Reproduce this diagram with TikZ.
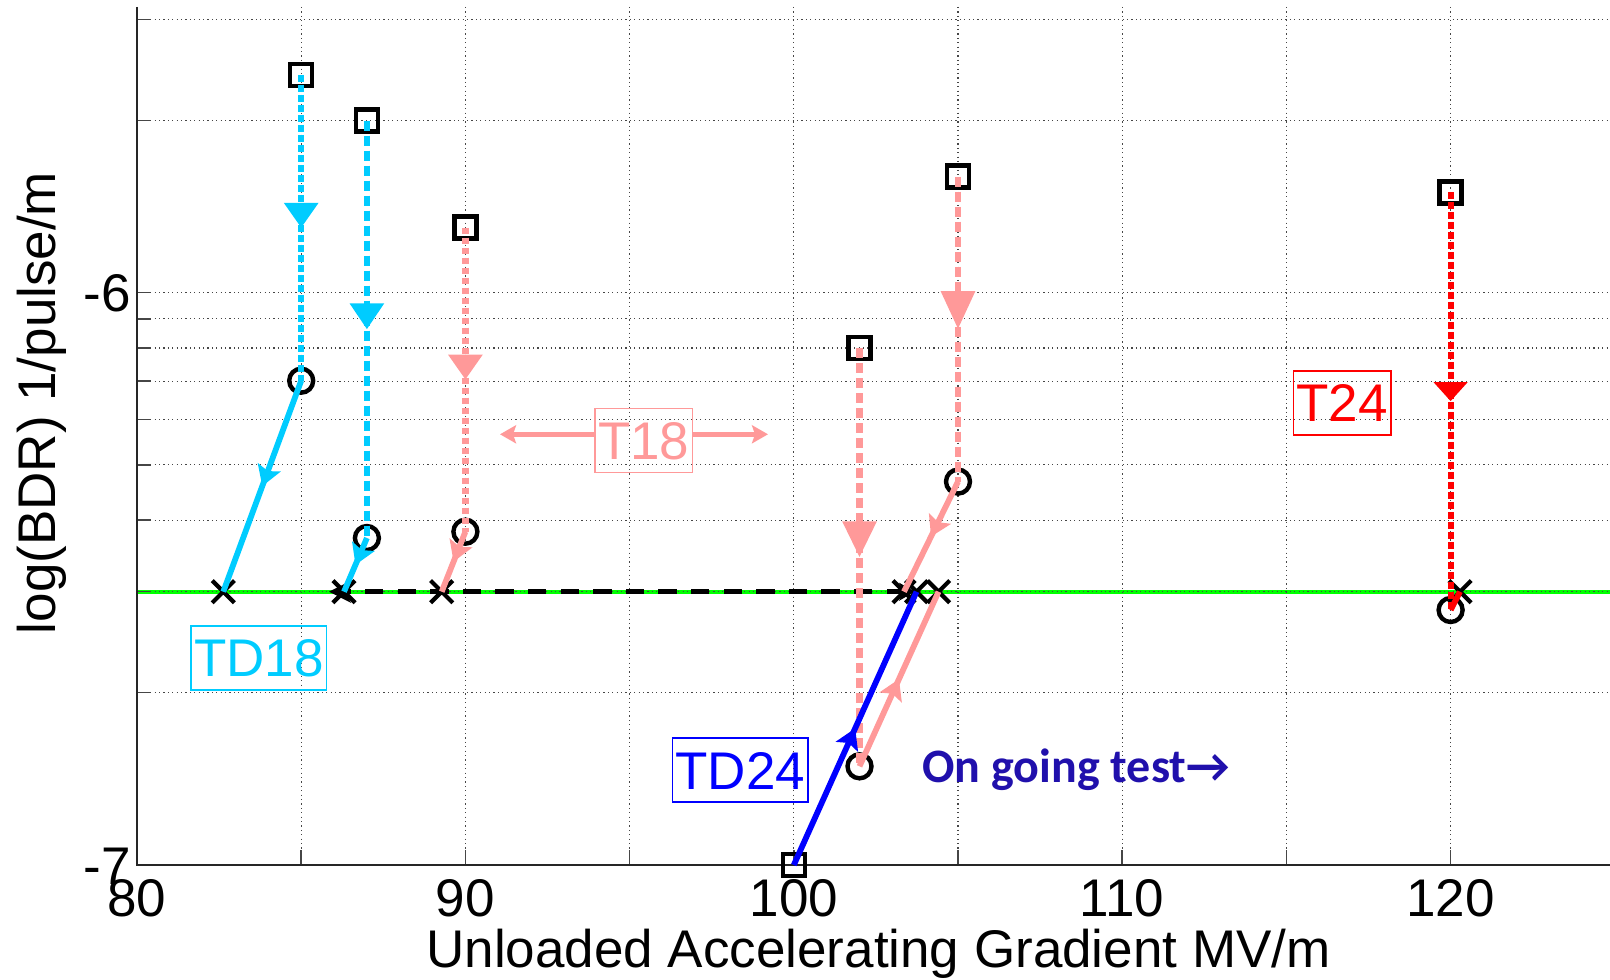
\documentclass[tikz,border=0pt]{standalone}
\usepackage{fontspec}
\setmainfont{Liberation Sans}
\newfontfamily\calfont{Carlito}
\usetikzlibrary{arrows.meta,decorations.markings,shapes.misc}
\definecolor{cyanc}{RGB}{0,204,255}
\definecolor{pinkc}{RGB}{255,153,153}
\definecolor{bluec}{RGB}{0,0,255}
\definecolor{redc}{RGB}{255,0,0}
\definecolor{greenc}{RGB}{0,255,0}
\definecolor{ongoingc}{RGB}{32,16,172}
\definecolor{gridc}{RGB}{70,70,70}
\definecolor{tickc}{RGB}{70,70,70}
\begin{document}
\begin{tikzpicture}[x=0.5pt,y=-0.5pt,
  big/.style={font=\fontsize{26.5}{30}\selectfont},
  sqm/.style={rectangle,draw=black,line width=2.2pt,minimum size=11pt,inner sep=0pt},
  cim/.style={circle,draw=black,line width=2.2pt,minimum size=12pt,inner sep=0pt},
  xm/.style={cross out,draw=black,line width=2.1pt,minimum size=9pt,inner sep=0pt},
  gridln/.style={gridc,line width=0.6pt,dash pattern=on 0.6pt off 1.6pt},
  tickln/.style={tickc,line width=0.75pt},
  dashshort/.style={line width=3.1pt,dash pattern=on 3.4pt off 1.6pt},
  dashlong/.style={line width=3.1pt,dash pattern=on 5pt off 2.5pt},
  solidln/.style={line width=2.9pt},
  midtri/.style={postaction={decorate},decoration={markings,mark=at position 0.5 with {\arrow{Triangle[width=16.5pt,length=#1]}}}},
  midhead/.style={postaction={decorate},decoration={markings,mark=at position 0.5 with {\arrow{Stealth[width=12pt,length=10pt,inset=2pt]}}}},
  tagbox/.style={draw=#1,text=#1,line width=0.75pt,font=\fontsize{26.5}{30}\selectfont,text height=19pt,text depth=0pt,inner xsep=1.5pt,inner ysep=6.5pt},
]
\useasboundingbox (0,0) rectangle (1610,979);
\fill[white] (0,0) rectangle (1610,979);

% green reference line
\draw[greenc,line width=2.2pt] (137,591.7) -- (1610,591.7);

% grid and ticks
\foreach \v in {85,90,...,120} {
  \pgfmathsetmacro\xx{137+(\v-80)*32.84}
  \draw[gridln] (\xx,7) -- (\xx,865);
  \draw[tickln] (\xx,865) -- (\xx,850);
}
\foreach \yy in {692.4,591.7,520.2,464.8,419.5,381.2,348.0,318.8,292.6,120.4,19.7} {
  \draw[gridln] (137,\yy) -- (1610,\yy);
  \draw[tickln] (137,\yy) -- (151,\yy);
}

% axes
\draw[black!85,line width=1pt] (137,7) -- (137,865) -- (1610,865);

% tick labels
\node[big,anchor=base] (x80) at (137,916) {80};
\node[big,anchor=base] (x90) at (465.4,916) {90};
\node[big,anchor=base] (x100) at (793.8,916) {100};
\node[big,anchor=base] (x110) at (1122.2,916) {110};
\node[big,anchor=base] (x120) at (1450.6,916) {120};
\node[big,anchor=base east,inner sep=0pt] (ym6) at (131,311.7) {-6};
\node[big,anchor=base east,inner sep=0pt] (ym7) at (131,884) {-7};
\node[big,anchor=base,inner sep=0pt] (xlab) at (878.5,967) {Unloaded Accelerating Gradient MV/m};
\node[big,anchor=base,inner sep=0pt,rotate=90] (ylab) at (55,403) {log(BDR) 1/pulse/m};

% markers: squares
\node[sqm] (sqA) at (301.2,75) {};
\node[sqm] (sqB) at (366.9,120.6) {};
\node[sqm] (sqC) at (465.4,227.5) {};
\node[sqm] (sqD) at (859.5,348.2) {};
\node[sqm] (sqE) at (958,176.6) {};
\node[sqm] (sqF) at (793.8,865) {};
\node[sqm] (sqG) at (1450.6,192.3) {};
% circles
\node[cim] (ciA) at (301.2,380.7) {};
\node[cim] (ciB) at (366.9,538) {};
\node[cim] (ciC) at (465.4,531.7) {};
\node[cim] (ciD) at (859.5,766.3) {};
\node[cim] (ciE) at (958,481.6) {};
\node[cim] (ciG) at (1450.6,610) {};
% crosses
\node[xm] (xA) at (223.3,591.7) {};
\node[xm] (xB) at (344,591.7) {};
\node[xm] (xC) at (441.7,591.7) {};
\node[xm] (xE) at (904,591.7) {};
\node[xm] (xF) at (916.5,591.7) {};
\node[xm] (xD) at (938.5,591.7) {};
\node[xm] (xG) at (1460,591.7) {};

% black dashed double arrow
\coordinate (dl) at (329,591.7);
\coordinate (dr) at (915,591.7);
\draw[black,line width=2.3pt,dash pattern=on 9.2pt off 7.1pt,{Stealth[width=9pt,length=8pt]}-{Stealth[width=11pt,length=11pt]}] (dr) -- (dl);

% TD18 (cyan)
\draw[cyanc,dashshort,midtri=12.5pt] (sqA.center) -- (ciA.center);
\draw[cyanc,solidln,midhead] (ciA.center) -- (xA.center);
\draw[cyanc,dashlong,midtri=13pt] (sqB.center) -- (ciB.center);
\draw[cyanc,solidln,midhead] (ciB.center) -- (xB.center);

% T18 (pink)
\draw[pinkc,dashshort,midtri=12.5pt] (sqC.center) -- (ciC.center);
\draw[pinkc,solidln,midhead] (ciC.center) -- (xC.center);
\draw[pinkc,dashlong,midtri=18pt] (sqD.center) -- (ciD.center);
\draw[pinkc,solidln,midhead] (ciD.center) -- (xD.center);
\draw[pinkc,dashlong,midtri=19pt] (sqE.center) -- (ciE.center);
\draw[pinkc,solidln,midhead] (ciE.center) -- (xE.center);

% TD24 (blue)
\draw[bluec,solidln,midhead] (sqF.center) -- (xF.center);

% T24 (red)
\draw[redc,dashshort,midtri=9.5pt] (sqG.center) -- (ciG.center);
\draw[redc,solidln] (ciG.center) -- (xG.center);

% labels
\node[tagbox=cyanc] (TD18) at (258.9,657.9) {TD18};
\node[tagbox=pinkc] (T18) at (643.7,440.5) {T18};
\node[tagbox=bluec] (TD24) at (740.4,770) {TD24};
\node[tagbox=redc] (T24) at (1342.2,402.9) {T24};

\coordinate (t18l) at (500,434.3);
\coordinate (t18r) at (768,434.3);
\draw[pinkc,line width=2.7pt,-{Stealth[width=9pt,length=8pt,inset=1.5pt]}] (T18.west |- t18l) -- (t18l);
\draw[pinkc,line width=2.7pt,-{Stealth[width=9pt,length=8pt,inset=1.5pt]}] (T18.east |- t18r) -- (t18r);

\node[anchor=base west,inner sep=0pt,text=ongoingc,font=\calfont\bfseries\fontsize{24}{27}\selectfont] (og) at (922,782.7) {On going test→};
\end{tikzpicture}
\end{document}
